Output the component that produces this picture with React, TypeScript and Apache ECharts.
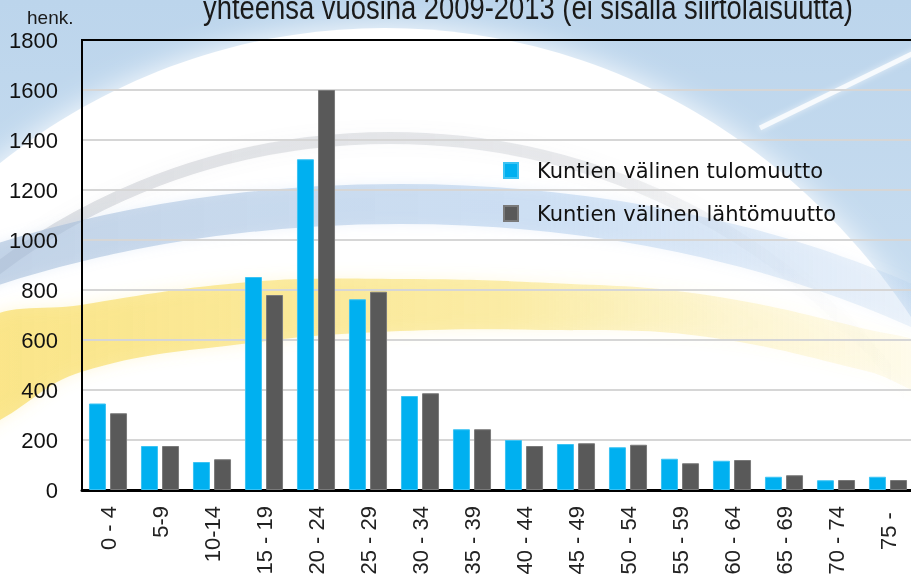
import React, { useEffect, useRef } from "react";
import * as echarts from "echarts";

const categories = ["0 - 4", "5-9", "10-14", "15 - 19", "20 - 24", "25 - 29", "30 - 34", "35 - 39", "40 - 44", "45 - 49", "50 - 54", "55 - 59", "60 - 64", "65 - 69", "70 - 74", "75 - "];
const tulomuutto = [346, 176, 112, 852, 1323, 763, 376, 243, 200, 184, 171, 125, 117, 53, 39, 53];
const lahtomuutto = [307, 176, 123, 780, 1600, 793, 387, 243, 176, 187, 181, 107, 120, 59, 40, 40];
const seriesNames = ["Kuntien välinen tulomuutto", "Kuntien välinen lähtömuutto"];
const titleText = "yhteensä vuosina 2009-2013 (ei sisällä siirtolaisuutta)";
const unitText = "henk.";

const SANS = "'Liberation Sans', Arial, sans-serif";

export default function App() {
  const ref = useRef<HTMLDivElement>(null);
  useEffect(() => {
    if (!ref.current) return;
    const chart = echarts.init(ref.current, null, { renderer: "svg" });
    const bg = (o: any) => ({ silent: true, z: -10, ...o });
    const yellow = new echarts.graphic.LinearGradient(0, 0, 911, 0, [
      { offset: 0, color: "rgba(248,220,95,0.66)" },
      { offset: 0.55, color: "rgba(248,222,100,0.5)" },
      { offset: 0.8, color: "rgba(248,222,100,0.24)" },
      { offset: 1, color: "rgba(248,222,100,0.1)" },
    ], true);
    const blueBand = new echarts.graphic.LinearGradient(0, 0, 911, 0, [
      { offset: 0, color: "rgba(160,185,215,0.55)" },
      { offset: 0.6, color: "rgba(172,202,236,0.5)" },
      { offset: 1, color: "rgba(172,202,236,0.2)" },
    ], true);
    const greyArc = new echarts.graphic.LinearGradient(0, 0, 911, 0, [
      { offset: 0, color: "rgba(150,156,168,0.3)" },
      { offset: 0.65, color: "rgba(160,165,175,0.22)" },
      { offset: 0.85, color: "rgba(160,165,175,0.04)" },
      { offset: 1, color: "rgba(160,165,175,0)" },
    ], true);
    chart.setOption({
      animation: false,
      graphic: [
        bg({
          type: "rect",
          shape: { x: 0, y: 0, width: 911, height: 574 },
          style: {
            fill: new echarts.graphic.LinearGradient(0, 0, 0, 1, [
              { offset: 0, color: "#bcd5ec" },
              { offset: 1, color: "#d3e4f3" },
            ]),
          },
        }),
        bg({
          type: "ellipse",
          shape: { cx: 385, cy: 700, rx: 640, ry: 672 },
          style: { fill: "#ffffff", shadowBlur: 30, shadowColor: "rgba(255,255,255,0.95)" },
        }),
        bg({
          type: "ellipse",
          shape: { cx: 390, cy: 760, rx: 640, ry: 622 },
          style: { fill: "none", stroke: greyArc, lineWidth: 12, shadowBlur: 14, shadowColor: "rgba(150,156,168,0.25)" },
        }),
        bg({
          type: "ellipse",
          shape: { cx: 400, cy: 760, rx: 888, ry: 556 },
          style: { fill: "none", stroke: blueBand, lineWidth: 40, shadowBlur: 12, shadowColor: "rgba(172,202,236,0.4)" },
        }),
        bg({
          type: "polygon",
          shape: {
            smooth: 0.4,
            points: [
              [-20, 326], [81, 305], [250, 282], [400, 279], [550, 283], [700, 294], [870, 330], [930, 350],
              [930, 392], [870, 372], [700, 336], [550, 330], [400, 331], [250, 343], [81, 372], [0, 420], [-20, 428],
            ],
          },
          style: { fill: yellow, shadowBlur: 16, shadowColor: "rgba(248,222,100,0.35)" },
        }),
        bg({
          type: "line",
          shape: { x1: 760, y1: 128, x2: 920, y2: 50 },
          style: { stroke: "rgba(255,255,255,0.8)", lineWidth: 5, shadowBlur: 6, shadowColor: "rgba(255,255,255,0.8)" },
        }),
        {
          type: "text",
          x: 528,
          y: 8,
          scaleX: 0.83,
          style: { text: titleText, textAlign: "center", textVerticalAlign: "middle", font: `33px ${SANS}`, fill: "#1a1a1a" },
        },
        {
          type: "text",
          x: 27,
          y: 17,
          style: { text: unitText, textAlign: "left", textVerticalAlign: "middle", font: `19px ${SANS}`, fill: "#1a1a1a" },
        },
      ],
      legend: {
        orient: "vertical",
        left: 503,
        top: 160,
        padding: 0,
        itemWidth: 14,
        itemHeight: 15,
        itemGap: 22,
        icon: "rect",
        data: seriesNames,
        textStyle: { fontSize: 21, fontFamily: "'DejaVu Sans', sans-serif", color: "#111", padding: [0, 0, 0, 14], lineHeight: 21 },
      },
      grid: {
        left: 82,
        top: 40,
        width: 832,
        height: 450,
        show: true,
        z: 1,
        borderColor: "#000",
        borderWidth: 2,
        backgroundColor: "transparent",
        outerBoundsMode: "none",
        containLabel: false,
      },
      xAxis: [
        {
          type: "category",
          data: categories,
          axisLine: { show: true, lineStyle: { color: "#000", width: 3 } },
          axisTick: { show: false },
          axisLabel: { rotate: 90, fontSize: 22, fontFamily: SANS, color: "#222", margin: 16, interval: 0 },
        },
        {
          type: "category",
          data: categories,
          position: "top",
          axisLine: { show: true, lineStyle: { color: "#000", width: 2 } },
          axisTick: { show: false },
          axisLabel: { show: false },
          splitLine: { show: false },
        },
      ],
      yAxis: {
        type: "value",
        min: 0,
        max: 1800,
        interval: 200,
        axisLine: { show: true, lineStyle: { color: "#000", width: 2 } },
        axisTick: { show: false },
        axisLabel: { fontSize: 22, fontFamily: SANS, color: "#111", margin: 24, formatter: (v: number) => String(v) },
        splitLine: { showMaxLine: false, showMinLine: false, lineStyle: { color: "#d6d6d6", width: 2 } },
      },
      series: [
        {
          name: seriesNames[0],
          type: "bar",
          data: tulomuutto,
          barWidth: 17,
          barGap: "24%",
          itemStyle: { color: "#00b0f0", borderColor: "#3cc3f3", borderWidth: 1 },
        },
        {
          name: seriesNames[1],
          type: "bar",
          data: lahtomuutto,
          barWidth: 17,
          itemStyle: { color: "#595959", borderColor: "#7a7a7a", borderWidth: 1 },
        },
      ],
    });
    return () => chart.dispose();
  }, []);
  return <div ref={ref} style={{ position: "fixed", left: 0, top: 0, width: 911, height: 574 }} />;
}
